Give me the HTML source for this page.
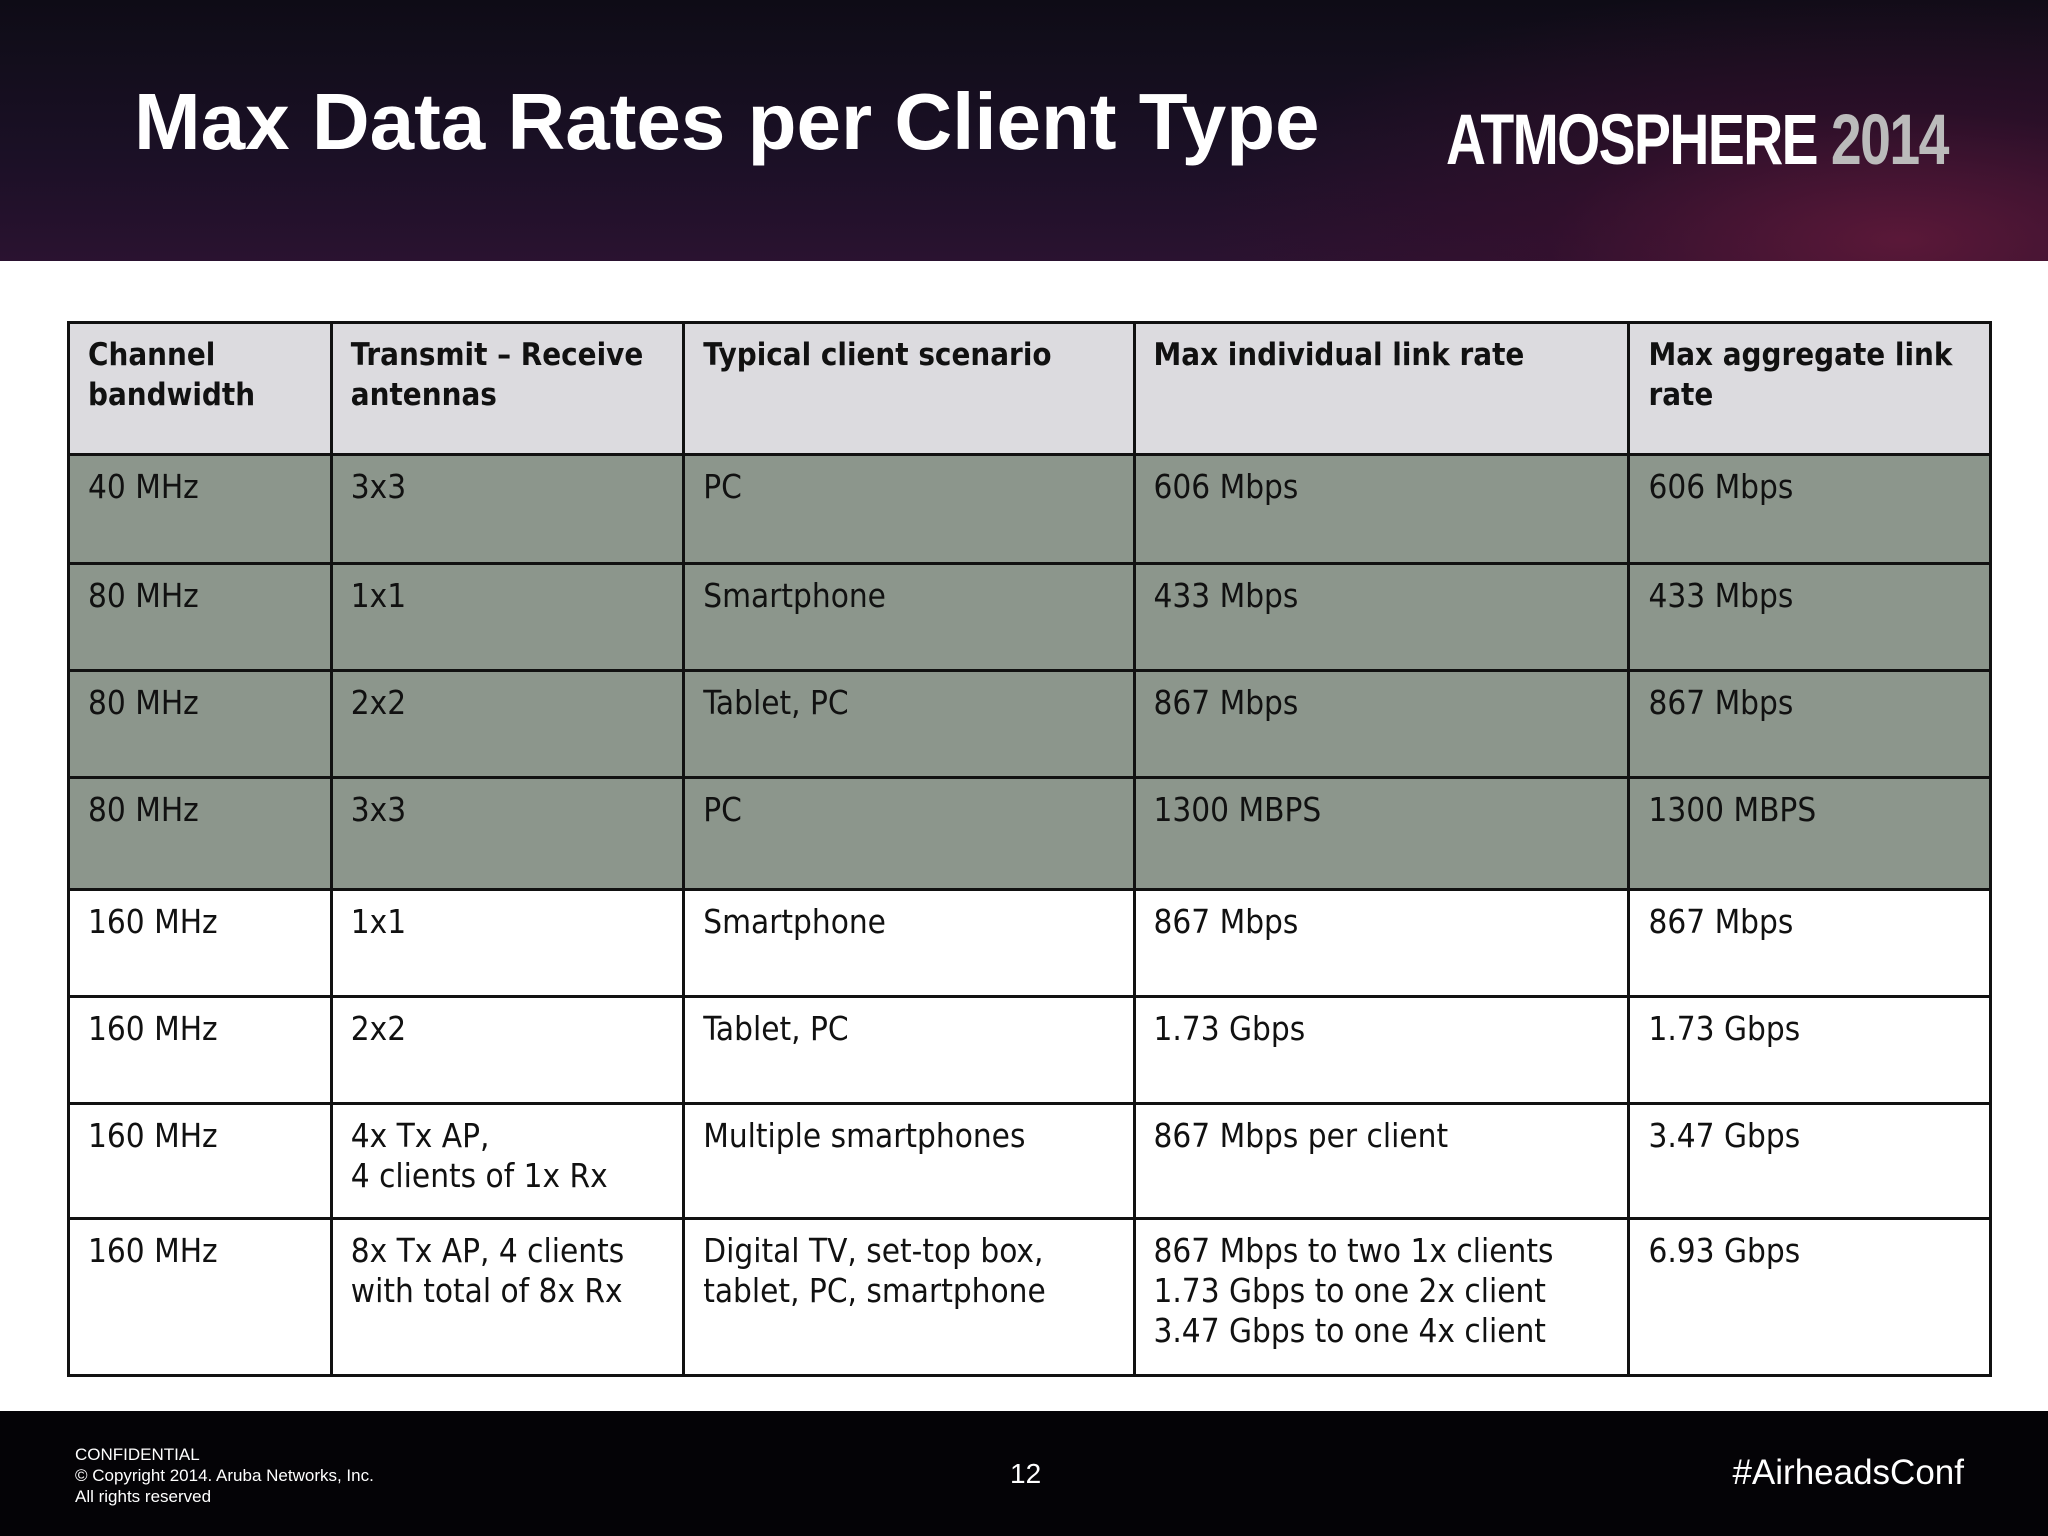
<!DOCTYPE html>
<html><head><meta charset="utf-8"><style>
*{margin:0;padding:0;box-sizing:border-box}
body{width:2048px;height:1536px;position:relative;background:#fff;overflow:hidden;font-family:"Liberation Sans",sans-serif}
#hdr{position:absolute;left:0;top:0;width:2048px;height:261px;background:radial-gradient(ellipse 700px 260px at 1900px 240px,#5a1838 0%,rgba(60,15,45,0.5) 50%,rgba(0,0,0,0) 100%),linear-gradient(180deg,#0e0c16 0%,#1b1026 60%,#2a1230 100%)}
#title{position:absolute;left:134px;top:76px;font-size:80px;font-weight:bold;color:#fff;white-space:nowrap}
#logo{position:absolute;left:1446px;top:100px;font-size:71px;font-weight:bold;color:#fff;transform:scaleX(0.78);transform-origin:left top;white-space:nowrap;letter-spacing:-2px}
#logo span{color:#bbb}
table{position:absolute;left:67px;top:321px;width:1925px;border-collapse:collapse;font-family:"DejaVu Sans Condensed","DejaVu Sans",sans-serif;font-size:33px;color:#111}
td,th{border:3px solid #111;vertical-align:top;text-align:left;padding:11px 18px;line-height:40px;font-weight:normal}
th{background:#dcdbdf;font-weight:bold;font-size:31px}
tr.g td{background:#8c968c}
#foot{position:absolute;left:0;top:1411px;width:2048px;height:125px;background:#040306;color:#fff}
#conf{position:absolute;left:75px;top:33px;font-size:17px;line-height:21px}
#pg{position:absolute;left:1010px;top:47px;font-size:28px}
#tag{position:absolute;right:84px;top:42px;font-size:35px}
</style></head><body>
<div id="hdr">
<div id="title">Max Data Rates per Client Type</div>
<div id="logo">ATMOSPHERE <span>2014</span></div>
</div>
<table>
<colgroup><col style="width:263px"><col style="width:353px"><col style="width:451px"><col style="width:496px"><col style="width:362px"></colgroup>
<tr style="height:132px"><th>Channel bandwidth</th><th>Transmit – Receive antennas</th><th>Typical client scenario</th><th>Max individual link rate</th><th>Max aggregate link rate</th></tr>
<tr class="g" style="height:109px"><td>40 MHz</td><td>3x3</td><td>PC</td><td>606 Mbps</td><td>606 Mbps</td></tr>
<tr class="g" style="height:107px"><td>80 MHz</td><td>1x1</td><td>Smartphone</td><td>433 Mbps</td><td>433 Mbps</td></tr>
<tr class="g" style="height:107px"><td>80 MHz</td><td>2x2</td><td>Tablet, PC</td><td>867 Mbps</td><td>867 Mbps</td></tr>
<tr class="g" style="height:112px"><td>80 MHz</td><td>3x3</td><td>PC</td><td>1300 MBPS</td><td>1300 MBPS</td></tr>
<tr style="height:107px"><td>160 MHz</td><td>1x1</td><td>Smartphone</td><td>867 Mbps</td><td>867 Mbps</td></tr>
<tr style="height:107px"><td>160 MHz</td><td>2x2</td><td>Tablet, PC</td><td>1.73 Gbps</td><td>1.73 Gbps</td></tr>
<tr style="height:115px"><td>160 MHz</td><td>4x Tx AP,<br>4 clients of 1x Rx</td><td>Multiple smartphones</td><td>867 Mbps per client</td><td>3.47 Gbps</td></tr>
<tr style="height:157px"><td>160 MHz</td><td>8x Tx AP, 4 clients with total of 8x Rx</td><td>Digital TV, set-top box, tablet, PC, smartphone</td><td>867 Mbps to two 1x clients<br>1.73 Gbps to one 2x client<br>3.47 Gbps to one 4x client</td><td>6.93 Gbps</td></tr>
</table>
<div id="foot">
<div id="conf">CONFIDENTIAL<br>© Copyright 2014. Aruba Networks, Inc.<br>All rights reserved</div>
<div id="pg">12</div>
<div id="tag">#AirheadsConf</div>
</div>
</body></html>
